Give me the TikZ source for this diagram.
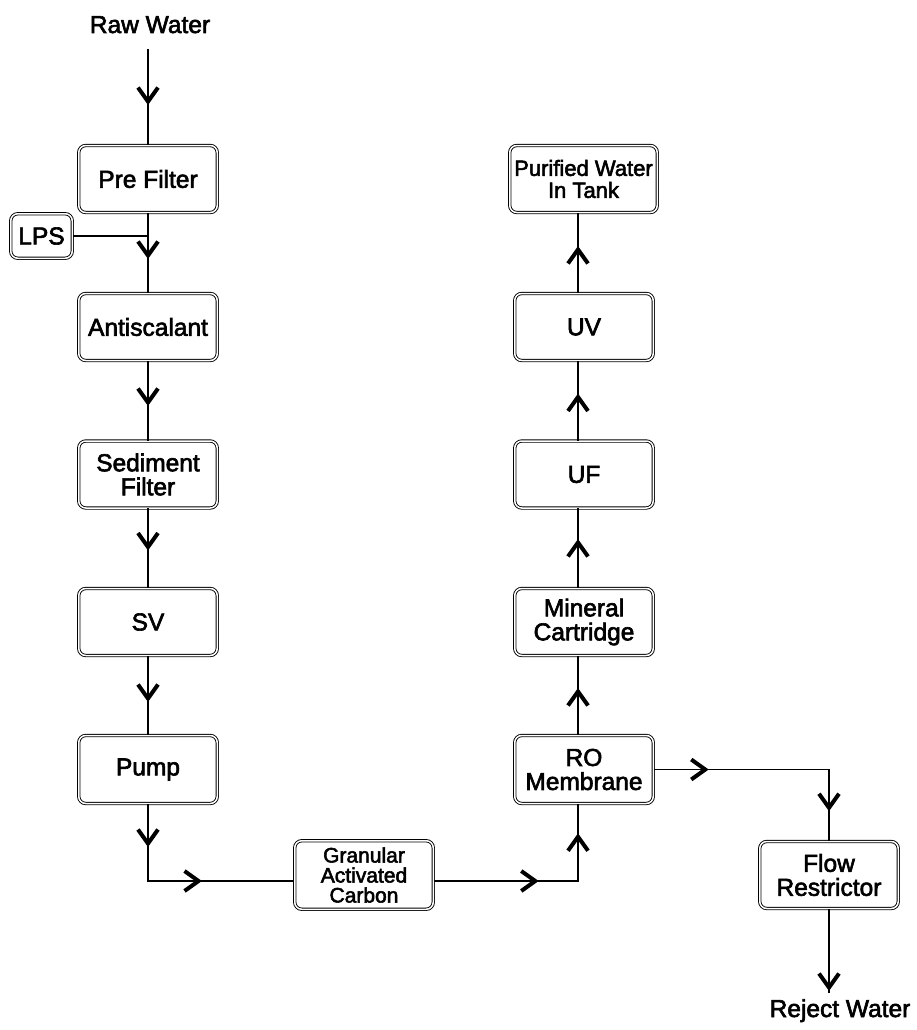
\documentclass[tikz,border=0pt]{standalone}
\usepackage{fontspec}
\setmainfont{Liberation Sans}
\newfontfamily\heavy[FakeBold=2.5]{Liberation Sans}
\usetikzlibrary{arrows.meta,decorations.markings}
\begin{document}
\begin{tikzpicture}[x=1pt,y=-1pt,
  box/.style={draw, line width=0.9pt, double, double distance=1.5pt,
    rounded corners=7pt, minimum width=138.5pt, minimum height=67pt,
    align=center, inner sep=0pt, font=\heavy\fontsize{24.5}{24}\selectfont},
  lbl/.style={inner sep=0pt, font=\heavy\fontsize{24.5}{24}\selectfont},
  flow/.style={draw, line width=1.1pt},
  chev/.style={postaction={decorate, decoration={markings,
    mark=at position #1 with {\arrow{Straight Barb[length=14pt,width=20pt,line width=4pt]}}}}}
]
\path[use as bounding box] (0,0) rectangle (916,1030);

% labels
\node[lbl, anchor=base] (raw) at (150,33) {Raw Water};
\node[lbl, anchor=base] (rej) at (840,1017) {Reject Water};
\coordinate (rawend) at (148,49);
\coordinate (rejend) at (829,993);
\coordinate (rcol) at (578,0);

% left column
\node[box] (pre) at (148,179) {Pre Filter};
\node[box, minimum width=61.5pt, minimum height=44.5pt] (lps) at (41.5,236) {LPS};
\node[box] (anti) at (148,327) {Antiscalant};
\node[box] (sed) at (148,474.5) {Sediment\\Filter};
\node[box] (sv) at (148,622) {SV};
\node[box, minimum height=68pt] (pump) at (148,769.5) {Pump};

% bottom
\node[box, minimum height=68.5pt, font=\heavy\fontsize{21}{20}\selectfont] (gac) at (364,875) {Granular\\Activated\\Carbon};
\node[box] (flowr) at (829,875) {Flow\\Restrictor};

% right column
\node[box, minimum width=147.5pt, font=\heavy\fontsize{22}{22}\selectfont] (pur) at (583.5,179) {Purified Water\\In Tank};
\node[box] (uv) at (584,327) {UV};
\node[box] (uf) at (584,474.5) {UF};
\node[box] (min) at (584,622) {Mineral\\Cartridge};
\node[box, minimum height=68pt] (ro) at (584,769.5) {RO\\Membrane};

% connectors
\draw[flow, chev=56pt] (rawend) -- (pre.north);
\draw[flow] (lps.east) -- (lps.east -| pre.south);
\draw[flow, chev=46pt] (pre.south) -- (anti.north);
\draw[flow, chev=45pt] (anti.south) -- (sed.north);
\draw[flow, chev=42pt] (sed.south) -- (sv.north);
\draw[flow, chev=46pt] (sv.south) -- (pump.north);
\draw[flow, chev=43pt, chev=131pt] (pump.south) |- ([yshift=-6pt]gac.west);
\draw[flow, chev=105pt, chev=192pt] ([yshift=-6pt]gac.east) -| (ro.south -| rcol);
\draw[flow, chev=47pt] (ro.north -| rcol) -- (min.south -| rcol);
\draw[flow, chev=49pt] (min.north -| rcol) -- (uf.south -| rcol);
\draw[flow, chev=47pt] (uf.north -| rcol) -- (uv.south -| rcol);
\draw[flow, chev=47pt] (uv.north -| rcol) -- (pur.south -| rcol);
\draw[flow, chev=55pt, chev=217pt] (ro.east) -| (flowr.north);
\draw[flow, chev=82pt] (flowr.south) -- (rejend);
\end{tikzpicture}
\end{document}
